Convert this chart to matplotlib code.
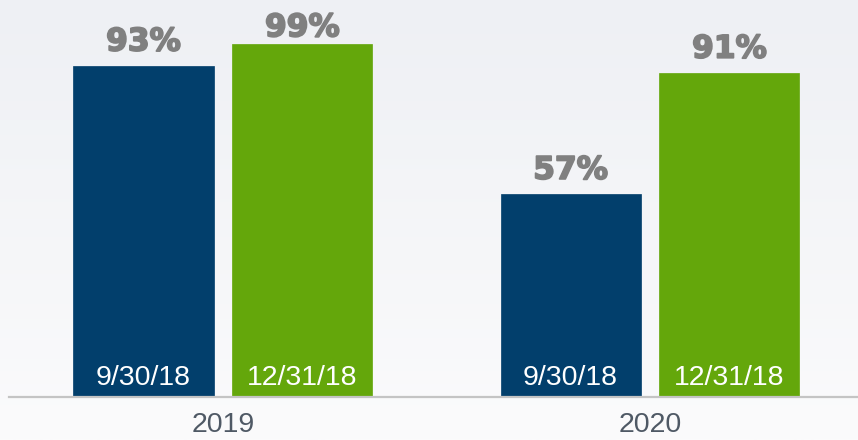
import matplotlib.pyplot as plt
import matplotlib.patheffects as pe
import numpy as np

years = ["2019", "2020"]
series_names = ["9/30/18", "12/31/18"]
pct_0930 = [93, 57]
pct_1231 = [99, 91]
colors = ["#023F6C", "#64A70B"]

fig = plt.figure(figsize=(8.58, 4.40), dpi=100)

# soft vertical gradient background
bg = fig.add_axes([0, 0, 1, 1], zorder=-1)
top = np.array([238, 240, 244]) / 255
bot = np.array([251, 251, 252]) / 255
t = np.linspace(0, 1, 256)[:, None]
grad = (top * (1 - t) + bot * t)[:, None, :]
bg.imshow(grad, aspect="auto", extent=[0, 1, 0, 1])
bg.axis("off")

ax = fig.add_axes([9 / 858, 43 / 440, 849 / 858, 397 / 440])
ax.patch.set_alpha(0)

x = np.arange(len(years))
w = 0.328
off = 0.186
ymax = 111.4
heavy = [pe.withStroke(linewidth=1.3, foreground="#808080")]

for vals, name, c, d in [(pct_0930, series_names[0], colors[0], -off),
                         (pct_1231, series_names[1], colors[1], off)]:
    bars = ax.bar(x + d, vals, w, color=c, edgecolor=c, linewidth=0.5)
    for xi, v in zip(x + d, vals):
        ly = min(v + 4.2, 101.2)
        ax.text(xi, ly, f"{v}%", ha="center", va="baseline",
                fontsize=22.5, fontweight="bold", color="#808080",
                family="DejaVu Sans", path_effects=heavy)
        ax.text(xi, 3.4, name, ha="center", va="baseline", fontsize=20.5,
                color="white", family="Liberation Sans")

ax.set_xlim(-0.501, 1.487)
ax.set_ylim(0, ymax)
ax.set_xticks(x, years, fontsize=20.5, color="#4f5965", family="Liberation Sans")
ax.tick_params(axis="x", length=0, pad=10.5)
ax.set_yticks([])
for s in ["top", "left", "right"]:
    ax.spines[s].set_visible(False)
ax.spines["bottom"].set_color("#c4c4c4")
ax.spines["bottom"].set_linewidth(1.6)

fig.savefig("out.png", dpi=100)
